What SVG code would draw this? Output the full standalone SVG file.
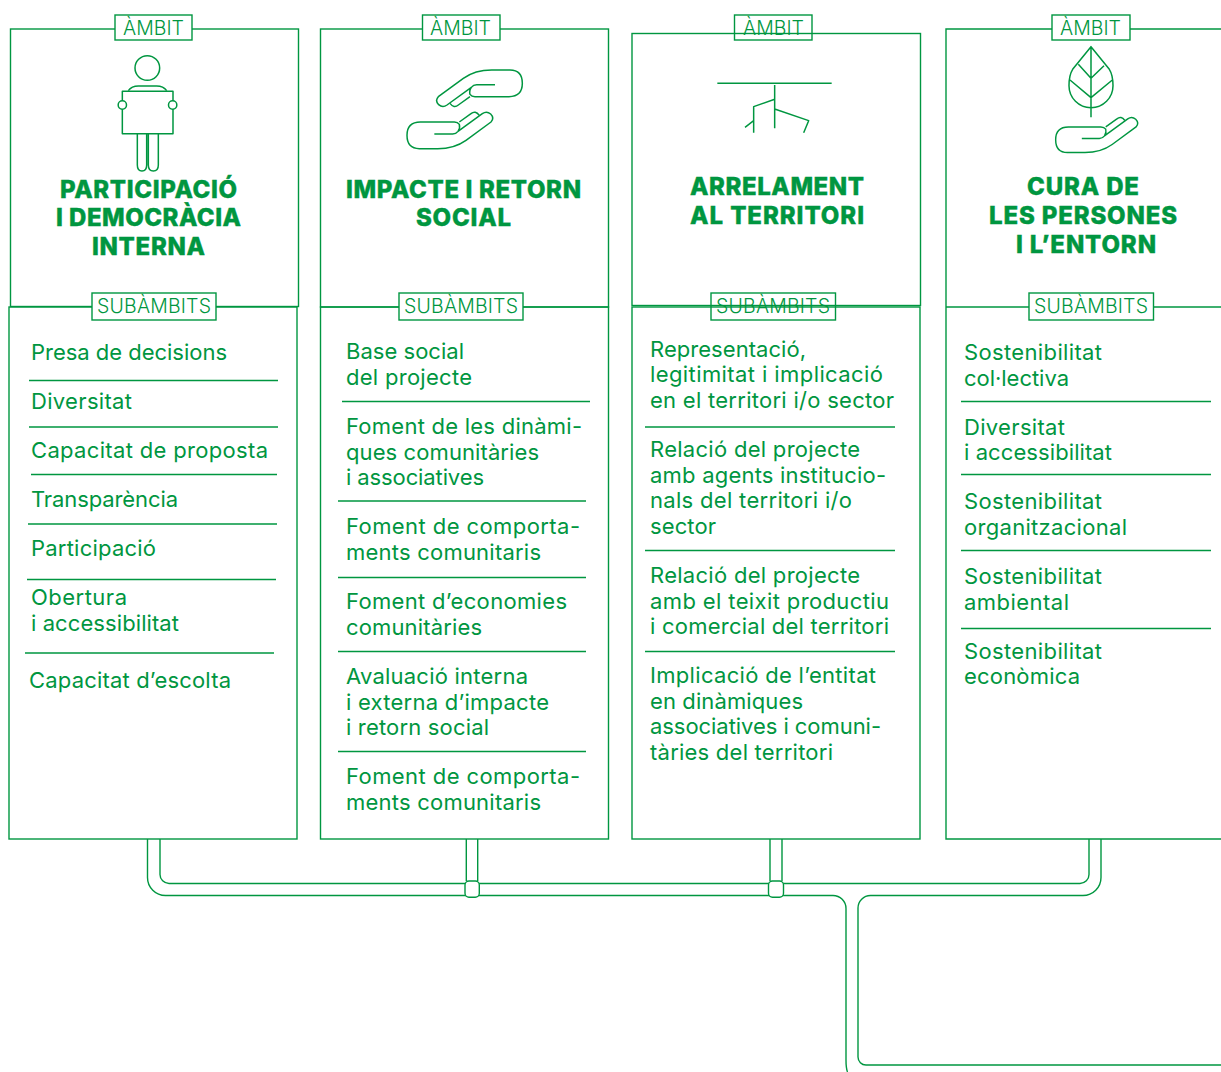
<svg xmlns="http://www.w3.org/2000/svg" xmlns:xlink="http://www.w3.org/1999/xlink" width="1221" height="1072" viewBox="0 0 1221 1072">
<style>
text{font-family:"Inter","Liberation Sans",sans-serif;fill:#009640}
.t{font-size:22px;font-weight:400}
.h{font-size:24px;font-weight:800;stroke:#009640;stroke-width:.4}
.l{font-size:19.500px;font-weight:300}
.f,.s,.p{fill:none;stroke:#009640;stroke-width:1.4}
.s{stroke-width:1.3}
.b{fill:#fff;stroke:#009640;stroke-width:1.4}
.i{fill:none;stroke:#009640;stroke-width:4.5;stroke-linecap:butt;stroke-linejoin:round}
.w{fill:#fff}
</style>
<defs>
<g id="hand">
<path d="M555,254H500Q490,254 484,262L411,315Q398,324 386,314Q374,302 385,290L460,235Q495,210 545,210H600Q637,210 637,250Q637,290 597,290H495Q485,290 480,283Q477,272 484,262"/>
<path d="M420,310Q432,326 445,315L480,290"/>
</g>
</defs>

<g id="node-participacio">
<rect class="f" x="10.500" y="29" width="288" height="277.500"/>
<rect class="f" x="9" y="307" width="288" height="532"/>
<rect class="b" x="115" y="15" width="77" height="25"/>
<text class="l" x="123" y="35" textLength="61">ÀMBIT</text>
<rect class="b" x="92" y="293" width="124" height="27"/>
<text class="l" x="97" y="313" textLength="114">SUBÀMBITS</text>
<g transform="scale(.33333)" class="i">
<circle cx="442" cy="204" r="37"/>
<rect x="367" y="274" width="152" height="127"/>
<circle class="w" cx="367" cy="315" r="12.500"/><circle class="w" cx="518" cy="315" r="12.500"/>
<path d="M385,272Q395,258 415,258H470Q490,258 500,272"/>
<path d="M412,401V495Q412,513 426,513Q440,513 440,495V401M445,401V495Q445,513 460,513Q475,513 475,495V401"/>
</g>
<text class="h" x="60" y="198" textLength="177">PARTICIPACIÓ</text>
<text class="h" x="56" y="226" textLength="185">I DEMOCRÀCIA</text>
<text class="h" x="92" y="255" textLength="113">INTERNA</text>
<text class="t" x="31" y="360" textLength="196">Presa de decisions</text>
<text class="t" x="31" y="409" textLength="101">Diversitat</text>
<text class="t" x="31" y="458" textLength="237">Capacitat de proposta</text>
<text class="t" x="31" y="507" textLength="147">Transparència</text>
<text class="t" x="31" y="556" textLength="125">Participació</text>
<text class="t" x="31" y="605" textLength="96">Obertura</text>
<text class="t" x="31" y="631" textLength="148">i accessibilitat</text>
<text class="t" x="29" y="688" textLength="202">Capacitat d’escolta</text>
<path class="s" d="M29,380.500H278M29,427H278M31,474.500H277M28,524H277M27,579.500H276M25,653H274"/>
</g>

<g id="node-impacte">
<rect class="f" x="320.500" y="29" width="288" height="278"/>
<rect class="f" x="320.500" y="307" width="288" height="532"/>
<rect class="b" x="422.500" y="15" width="77.500" height="25"/>
<text class="l" x="430" y="35" textLength="61">ÀMBIT</text>
<rect class="b" x="399" y="293" width="124" height="27"/>
<text class="l" x="404" y="313" textLength="114">SUBÀMBITS</text>
<g transform="translate(310,0) scale(.33333)" class="i">
<use xlink:href="#hand" href="#hand"/>
<use xlink:href="#hand" href="#hand" transform="rotate(180 464 328)"/>
</g>
<text class="h" x="346" y="198" textLength="235">IMPACTE I RETORN</text>
<text class="h" x="416" y="226" textLength="95">SOCIAL</text>
<text class="t" x="346" y="359" textLength="118">Base social</text>
<text class="t" x="346" y="385" textLength="126">del projecte</text>
<text class="t" x="346" y="434" textLength="236">Foment de les dinàmi-</text>
<text class="t" x="346" y="460" textLength="193">ques comunitàries</text>
<text class="t" x="346" y="485" textLength="138">i associatives</text>
<text class="t" x="346" y="534" textLength="234">Foment de comporta-</text>
<text class="t" x="346" y="560" textLength="195">ments comunitaris</text>
<text class="t" x="346" y="609" textLength="221">Foment d’economies</text>
<text class="t" x="346" y="635" textLength="136">comunitàries</text>
<text class="t" x="346" y="684" textLength="182">Avaluació interna</text>
<text class="t" x="346" y="710" textLength="203">i externa d’impacte</text>
<text class="t" x="346" y="735" textLength="143">i retorn social</text>
<text class="t" x="346" y="784" textLength="234">Foment de comporta-</text>
<text class="t" x="346" y="810" textLength="195">ments comunitaris</text>
<path class="s" d="M342,401.500H590M338,501H586M338,577.500H586M338,651.500H586M338,751.500H586"/>
</g>

<g id="node-arrelament">
<rect class="f" x="632" y="33.500" width="288.500" height="272"/>
<rect class="f" x="632" y="307" width="288" height="532"/>
<text class="l" x="743" y="35" textLength="61">ÀMBIT</text>
<rect class="f" x="734.500" y="15" width="77.500" height="25"/>
<text class="l" x="716" y="313" textLength="114">SUBÀMBITS</text>
<rect class="f" x="711" y="293" width="124.500" height="27"/>
<g transform="translate(625,0) scale(.33333)" class="i">
<path d="M277,250H620M449,255V385M449,298L386,320V398M386,362L360,382M449,327L551,362L536,398"/>
</g>
<text class="h" x="690" y="195" textLength="174">ARRELAMENT</text>
<text class="h" x="690" y="224" textLength="174">AL TERRITORI</text>
<text class="t" x="650" y="357" textLength="156">Representació,</text>
<text class="t" x="650" y="382" textLength="233">legitimitat i implicació</text>
<text class="t" x="650" y="408" textLength="244">en el territori i/o sector</text>
<text class="t" x="650" y="457" textLength="210">Relació del projecte</text>
<text class="t" x="650" y="483" textLength="236">amb agents institucio-</text>
<text class="t" x="650" y="508" textLength="202">nals del territori i/o</text>
<text class="t" x="650" y="534" textLength="66">sector</text>
<text class="t" x="650" y="583" textLength="210">Relació del projecte</text>
<text class="t" x="650" y="609" textLength="239">amb el teixit productiu</text>
<text class="t" x="650" y="634" textLength="239">i comercial del territori</text>
<text class="t" x="650" y="683" textLength="226">Implicació de l’entitat</text>
<text class="t" x="650" y="709" textLength="153">en dinàmiques</text>
<text class="t" x="650" y="734" textLength="231">associatives i comuni-</text>
<text class="t" x="650" y="760" textLength="183">tàries del territori</text>
<path class="s" d="M645,427H895M645,550.500H895M645,651.500H895"/>
</g>

<g id="node-cura">
<path class="f" d="M1221,29H946V839H1221M946,307H1221"/>
<rect class="b" x="1052" y="15" width="78" height="25"/>
<text class="l" x="1060" y="35" textLength="61">ÀMBIT</text>
<rect class="b" x="1029" y="293" width="124.500" height="27"/>
<text class="l" x="1034" y="313" textLength="114">SUBÀMBITS</text>
<g transform="translate(930,0) scale(.33333)" class="i">
<path d="M483,140L428,208Q417,225 417,257A66,66 0 0 0 549,257Q549,225 538,208ZM483,140V352M445,193L483,235L522,197M420,240L483,293L547,240"/>
<use xlink:href="#hand" href="#hand" transform="translate(86,16) translate(291,334) scale(.957,.96) translate(-291,-334) rotate(180 464 328)"/>
</g>
<text class="h" x="1027" y="195" textLength="112">CURA DE</text>
<text class="h" x="989" y="224" textLength="188">LES PERSONES</text>
<text class="h" x="1016" y="253" textLength="140">I L’ENTORN</text>
<text class="t" x="964" y="360" textLength="138">Sostenibilitat</text>
<text class="t" x="964" y="386" textLength="105">col·lectiva</text>
<text class="t" x="964" y="435" textLength="101">Diversitat</text>
<text class="t" x="964" y="460" textLength="148">i accessibilitat</text>
<text class="t" x="964" y="509" textLength="138">Sostenibilitat</text>
<text class="t" x="964" y="535" textLength="163">organitzacional</text>
<text class="t" x="964" y="584" textLength="138">Sostenibilitat</text>
<text class="t" x="964" y="610" textLength="105">ambiental</text>
<text class="t" x="964" y="659" textLength="138">Sostenibilitat</text>
<text class="t" x="964" y="684" textLength="116">econòmica</text>
<path class="s" d="M961,401.500H1211M961,474.500H1211M961,550.500H1211M961,628.500H1211"/>
</g>

<g id="connectors">
<path class="p" d="M147.500,839V877.500A18,18 0 0 0 165.500,895.500H833A13,13 0 0 1 846,908.500V1060Q846,1068 847.500,1072"/>
<path class="p" d="M160,839V874.500A9,9 0 0 0 169,883.500H1080A9,9 0 0 0 1089,874.500V839"/>
<path class="p" d="M1101,839V877.500A18,18 0 0 1 1083,895.500H870.500A12.500,12.500 0 0 0 858,908V1057A8,8 0 0 0 866,1065H1221"/>
<path class="p" d="M466.300,839V881M477.700,839V881M770,839V881M782,839V881"/>
<rect class="b" x="465" y="881" width="14.300" height="16.300" rx="4"/>
<rect class="b" x="768.500" y="881" width="15" height="16.300" rx="4"/>
</g>
</svg>
